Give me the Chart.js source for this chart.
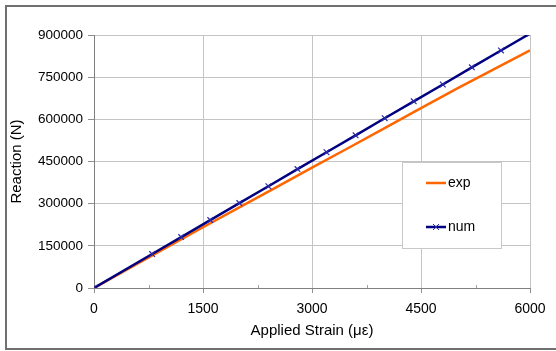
<!DOCTYPE html>
<html>
<head>
<meta charset="utf-8">
<script src="https://cdn.jsdelivr.net/npm/chart.js@4"></script>
<style>
  html, body { margin: 0; padding: 0; background: #fff; }
  #wrap { position: relative; width: 556px; height: 351px; overflow: hidden; }
  /* cadre gris autour du graphique (bord droit hors image) */
  #frame { position: absolute; left: 5px; top: 5px; width: 600px; height: 341px; border: 2px solid #707070; }
  #chart { position: absolute; left: 0; top: 0; }
</style>
</head>
<body>
<div id="wrap">
  <div id="frame"></div>
  <canvas id="chart" width="556" height="351"></canvas>
</div>
<script>
// Données
const strainExp = [0, 500, 1000, 1500, 2000, 2500, 3000, 3500, 4000, 4500, 5000, 5500, 6000];
const reactionExp = [0, 72000, 144000, 216000, 287000, 357000, 428000, 498000, 569000, 640000, 710000, 778000, 845000];

const strainNum = [0, 800, 1200, 1600, 2000, 2400, 2800, 3200, 3600, 4000, 4400, 4800, 5200, 5600, 6000];
const reactionNum = [0, 120800, 181000, 241500, 302000, 362000, 423000, 483000, 543000, 604000, 664000, 724000, 785000, 845000, 905000];

const xTicks = [0, 1500, 3000, 4500, 6000];
const yTicks = [0, 150000, 300000, 450000, 600000, 750000, 900000];

const FONT = 'Arial, "Liberation Sans", sans-serif';

function toPoints(xs, ys) {
    return xs.map((x, i) => ({ x: x, y: ys[i] }));
}

// petites graduations intermédiaires sur l'axe X (vers le haut)
const minorTicks = {
    id: 'minorTicks',
    afterDatasetsDraw(chart) {
        const xs = chart.scales.x;
        const ctx = chart.ctx;
        const yBase = chart.chartArea.bottom;
        ctx.save();
        ctx.strokeStyle = '#a0a0a0';
        ctx.lineWidth = 1;
        for (let i = 0; i < xTicks.length - 1; i++) {
            const v = (xTicks[i] + xTicks[i + 1]) / 2;
            const px = Math.round(xs.getPixelForValue(v)) + 0.5;
            ctx.beginPath();
            ctx.moveTo(px, yBase);
            ctx.lineTo(px, yBase - 3);
            ctx.stroke();
        }
        ctx.restore();
    }
};

// légende encadrée dans la zone du graphique
const boxLegend = {
    id: 'boxLegend',
    afterDraw(chart) {
        const ctx = chart.ctx;
        const bx = 402, by = 162, bw = 99, bh = 86;
        ctx.save();
        ctx.fillStyle = '#ffffff';
        ctx.fillRect(bx, by, bw, bh);
        ctx.strokeStyle = '#c8c8c8';
        ctx.lineWidth = 1;
        ctx.strokeRect(bx + 0.5, by + 0.5, bw, bh);
        ctx.font = '14px ' + FONT;
        ctx.textBaseline = 'middle';
        ctx.fillStyle = '#000';
        const rows = [by + 21, by + 65];
        chart.data.datasets.forEach((ds, i) => {
            const y = rows[i];
            ctx.strokeStyle = ds.borderColor;
            ctx.lineWidth = 2.5;
            ctx.beginPath();
            ctx.moveTo(426, y);
            ctx.lineTo(446, y);
            ctx.stroke();
            if (ds.pointRadius > 0) {
                ctx.strokeStyle = ds.pointBorderColor;
                ctx.lineWidth = 1;
                ctx.beginPath();
                ctx.moveTo(433, y - 3); ctx.lineTo(439, y + 3);
                ctx.moveTo(433, y + 3); ctx.lineTo(439, y - 3);
                ctx.stroke();
            }
            ctx.fillStyle = '#000';
            ctx.fillText(ds.label, 448, y);
        });
        ctx.restore();
    }
};

const ctx = document.getElementById('chart').getContext('2d');
new Chart(ctx, {
    type: 'scatter',
    data: {
        datasets: [
            {
                label: 'exp',
                data: toPoints(strainExp, reactionExp),
                showLine: true,
                borderColor: '#ff6600',
                borderWidth: 2.5,
                pointRadius: 0,
                order: 1
            },
            {
                label: 'num',
                data: toPoints(strainNum, reactionNum),
                showLine: true,
                borderColor: '#000080',
                borderWidth: 2.5,
                pointStyle: 'crossRot',
                pointRadius: 4,
                pointBorderColor: '#2a2aa8',
                pointBorderWidth: 1.2,
                order: 0
            }
        ]
    },
    options: {
        responsive: false,
        animation: false,
        events: [],
        layout: { padding: { top: 35, right: 26, left: 0, bottom: 0 } },
        plugins: {
            legend: { display: false },
            tooltip: { enabled: false }
        },
        scales: {
            x: {
                type: 'linear',
                min: 0,
                max: 6000,
                afterBuildTicks: (s) => { s.ticks = xTicks.map(v => ({ value: v })); },
                afterFit: (s) => { s.height = 63; },
                border: { color: '#808080', width: 1 },
                grid: { color: '#c4c4c4', tickColor: '#909090', tickLength: 5, lineWidth: 1 },
                ticks: {
                    color: '#000',
                    padding: 8,
                    maxRotation: 0,
                    font: { family: FONT, size: 14 },
                    callback: (v) => String(v)
                },
                title: {
                    display: true,
                    text: 'Applied Strain (\u03bc\u03b5)',
                    color: '#000',
                    font: { family: FONT, size: 15 },
                    padding: { top: 0, bottom: 11 }
                }
            },
            y: {
                min: 0,
                max: 900000,
                afterBuildTicks: (s) => { s.ticks = yTicks.map(v => ({ value: v })); },
                afterFit: (s) => { s.width = 94; },
                border: { color: '#808080', width: 1 },
                grid: { color: '#c4c4c4', tickColor: '#909090', tickLength: 6, lineWidth: 1 },
                ticks: {
                    color: '#000',
                    padding: 5,
                    font: { family: FONT, size: 13.5 },
                    callback: (v) => String(v)
                },
                title: {
                    display: true,
                    text: 'Reaction (N)',
                    color: '#000',
                    font: { family: FONT, size: 15 },
                    padding: { top: 8, bottom: 0 }
                }
            }
        }
    },
    plugins: [minorTicks, boxLegend]
});
</script>
</body>
</html>
